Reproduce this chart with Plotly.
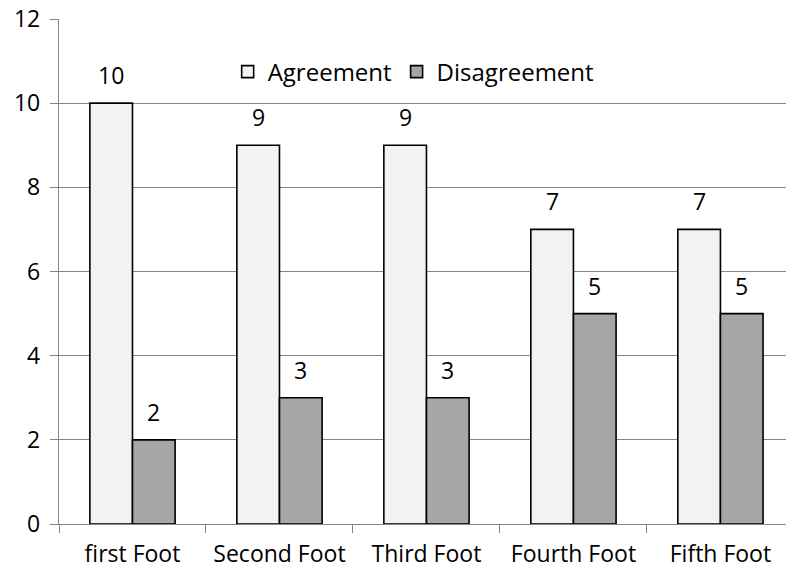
import plotly.graph_objects as go

categories = ["first Foot", "Second Foot", "Third Foot", "Fourth Foot", "Fifth Foot"]
agreement = [10, 9, 9, 7, 7]
disagreement = [2, 3, 3, 5, 5]

FONT = "Open Sans"
FS = 23
GRID = "#868686"
BAR_HALF_PX = 21  # horizontal offset of each bar centre from its category centre

fig = go.Figure()
fig.add_trace(go.Bar(
    name="Agreement", x=categories, y=agreement,
    marker=dict(color="#f2f2f2", line=dict(color="black", width=1.6)),
))
fig.add_trace(go.Bar(
    name="Disagreement", x=categories, y=disagreement,
    marker=dict(color="#a6a6a6", line=dict(color="black", width=1.6)),
))

# value labels sitting above each bar
for values, shift in ((agreement, -BAR_HALF_PX), (disagreement, BAR_HALF_PX)):
    for cat, v in zip(categories, values):
        fig.add_annotation(
            x=cat, y=v, text=str(v), showarrow=False,
            xshift=shift, yshift=28, yanchor="middle",
            font=dict(family=FONT, size=FS, color="black"),
        )

fig.update_layout(
    width=786, height=570,
    margin=dict(l=59, r=0, t=19, b=46),
    paper_bgcolor="white", plot_bgcolor="white",
    barmode="group", bargap=0.42, bargroupgap=0,
    font=dict(family=FONT, size=FS, color="black"),
    showlegend=True,
    legend=dict(orientation="h", x=0.232, y=0.895, xanchor="left", yanchor="middle",
                bgcolor="rgba(0,0,0,0)", font=dict(family=FONT, size=24, color="black"),
                itemwidth=30, tracegroupgap=0),
    xaxis=dict(
        type="category", range=[-0.5, 4.446], tickson="boundaries",
        ticks="outside", ticklen=8, tickcolor=GRID, tickwidth=1.3,
        showline=True, linecolor=GRID, linewidth=1.3,
        showgrid=False, tickfont=dict(family=FONT, size=FS),
        ticklabelstandoff=9, automargin=False,
    ),
    yaxis=dict(
        range=[0, 12], dtick=2, tick0=0,
        ticks="outside", ticklen=8, tickcolor=GRID, tickwidth=1.3,
        showline=True, linecolor=GRID, linewidth=1.3,
        showgrid=True, gridcolor=GRID, gridwidth=1.3,
        zeroline=False, tickfont=dict(family=FONT, size=FS),
        ticklabelstandoff=5, automargin=False,
    ),
)

fig.write_html("out.html")
